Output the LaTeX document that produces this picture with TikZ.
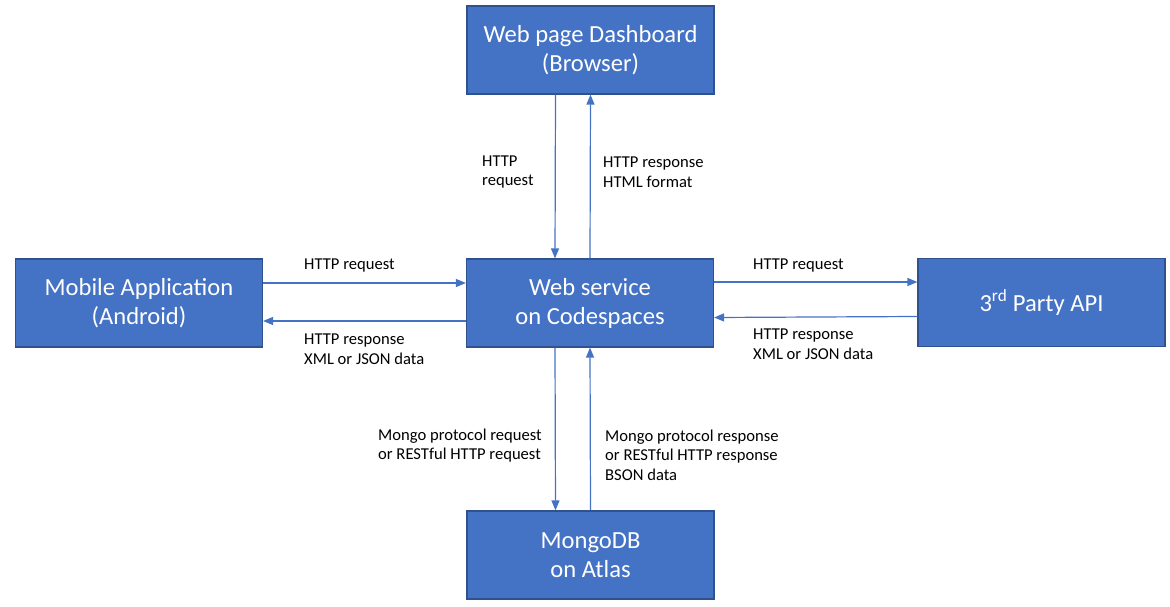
\documentclass[tikz,border=0pt]{standalone}
\usepackage{fontspec}
\setmainfont{Carlito}
\usetikzlibrary{arrows.meta}
\definecolor{boxfill}{HTML}{4472C4}
\definecolor{boxedge}{HTML}{2F528F}
\definecolor{linec}{HTML}{4472C4}
\begin{document}
\begin{tikzpicture}[x=1pt,y=-1pt,
  box/.style={draw=boxedge,line width=1.2pt,fill=boxfill,text=white,
    minimum width=247pt,minimum height=88pt,align=center,inner sep=0pt,
    font=\fontsize{24.6}{29}\selectfont},
  arr/.style={draw=linec,line width=1.2pt,-{Triangle[length=10pt,width=8pt]}},
  lbl/.style={anchor=west,align=left,inner sep=0pt,text=black,
    font=\fontsize{16.6}{19.5}\selectfont}]
\useasboundingbox (0,0) rectangle (1170,607);
\node[box] (dash) at (590.5,50) {Web page Dashboard\\(Browser)};
\node[box] (ws) at (590,303) {Web service\\on Codespaces};
\node[box] (mob) at (139,303) {Mobile Application\\(Android)};
\node[box] (api) at (1041.5,302.5) {3\textsuperscript{rd} Party API};
\node[box] (db) at (590.5,555) {MongoDB\\on Atlas};
% top
\draw[arr] ([xshift=-35pt]dash.south) -- ([xshift=-35pt]ws.north);
\draw[arr] (ws.north) -- (dash.south);
% bottom
\draw[arr] ([xshift=-35pt]ws.south) -- ([xshift=-35pt]db.north);
\draw[arr] (db.north) -- (ws.south);
% left
\draw[arr] ([yshift=20pt]mob.east) -- ([yshift=20pt]ws.west);
\draw[arr] ([yshift=-18pt]ws.west) -- ([yshift=-18pt]mob.east);
% right
\draw[arr] ([yshift=21pt]ws.east) -- ([yshift=20.5pt]api.west);
\draw[arr] ([yshift=-14pt]api.west) -- ([yshift=-14.5pt]ws.east);
% labels
\node[lbl] (l1) at (482,172) {HTTP\\request};
\node[lbl] (l2) at (603,172) {HTTP response\\HTML format};
\node[lbl] (l3) at (304,266) {HTTP request};
\node[lbl] (l4) at (304,349) {HTTP response\\XML or JSON data};
\node[lbl] (l5) at (753,266) {HTTP request};
\node[lbl] (l6) at (753,344) {HTTP response\\XML or JSON data};
\node[lbl] (l7) at (378,445.5) {Mongo protocol request\\or RESTful HTTP request};
\node[lbl] (l8) at (605,455) {Mongo protocol response\\or RESTful HTTP response\\BSON data};
\end{tikzpicture}
\end{document}
